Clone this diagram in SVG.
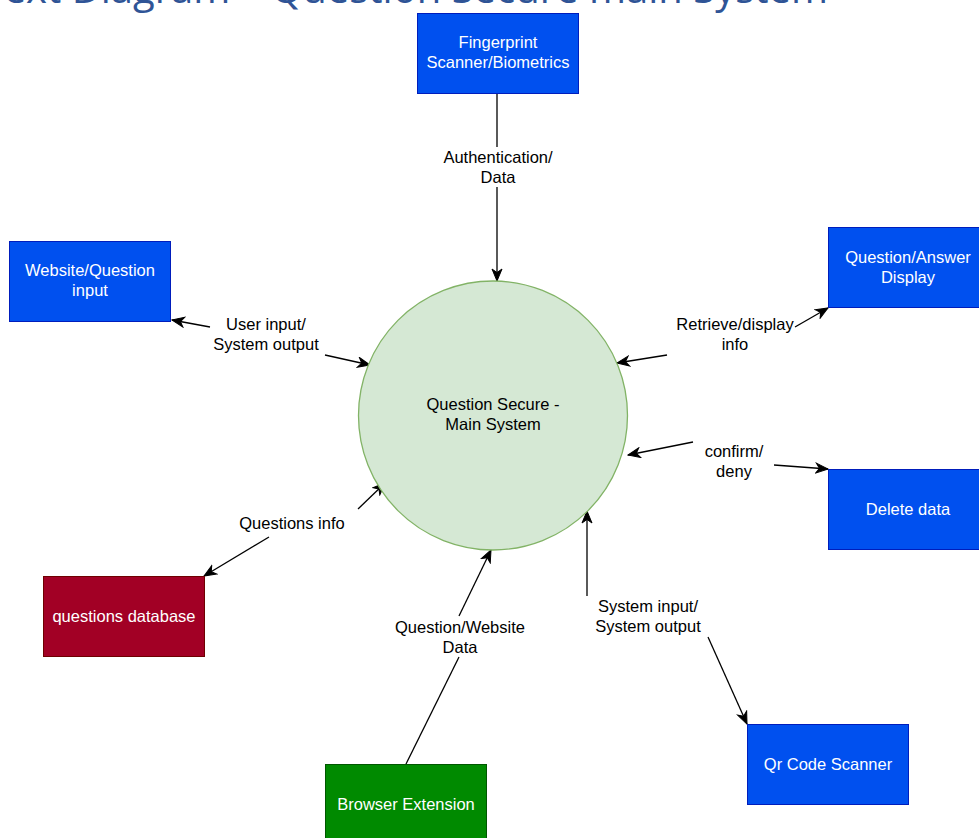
<svg xmlns="http://www.w3.org/2000/svg" width="979" height="838" viewBox="0 0 979 838">
<defs>
<style>
.t{font-family:"Liberation Sans",Arial,sans-serif;font-size:16.5px;text-anchor:middle}
.w{fill:#ffffff}
.k{fill:#000000}
.blue{fill:#0050ef;stroke:#001dbc;stroke-width:1}
.red{fill:#a20025;stroke:#6f0000;stroke-width:1}
.green{fill:#008a00;stroke:#005700;stroke-width:1}
.c{fill:none;stroke:#000000;stroke-width:1.3}
.a{marker-end:url(#arr)}
</style>
<marker id="arr" markerUnits="userSpaceOnUse" markerWidth="14" markerHeight="12" viewBox="0 0 14 12" refX="13" refY="6" orient="auto">
<path d="M1,1 L13,6 L1,11 L4.5,6 Z" fill="#000000" stroke="#000000" stroke-width="1"/>
</marker>
</defs>
<rect width="979" height="838" fill="#ffffff"/>
<text x="828" y="3" font-family="'Open Sans','Noto Sans',sans-serif" font-size="40" fill="#2F5496" text-anchor="end">ext Diagram – Question Secure main System</text>

<g id="connectors">
<path class="c" d="M497,93 L497,147"/>
<path class="c a" d="M497,187 L497,281"/>
<path class="c a" d="M210,327 L172,320"/>
<path class="c a" d="M325,355 L370,365"/>
<path class="c a" d="M795,327 L828,308"/>
<path class="c a" d="M667,355 L617,363"/>
<path class="c a" d="M693,442 L628,455"/>
<path class="c a" d="M774,465 L828,469"/>
<path class="c a" d="M269,537 L204,576"/>
<path class="c a" d="M358,509 L385,483"/>
<path class="c" d="M406,764 L459,657"/>
<path class="c a" d="M459,616 L491,550"/>
<path class="c a" d="M587,596 L587,511"/>
<path class="c a" d="M708,637 L747,724"/>
<text class="t k" x="498" y="163">Authentication/</text>
<text class="t k" x="498" y="183">Data</text>
<text class="t k" x="266" y="330">User input/</text>
<text class="t k" x="266" y="350">System output</text>
<text class="t k" x="735" y="330">Retrieve/display</text>
<text class="t k" x="735" y="350">info</text>
<text class="t k" x="734" y="457">confirm/</text>
<text class="t k" x="734" y="477">deny</text>
<text class="t k" x="292" y="529">Questions info</text>
<text class="t k" x="460" y="633">Question/Website</text>
<text class="t k" x="460" y="653">Data</text>
<text class="t k" x="648" y="612">System input/</text>
<text class="t k" x="648" y="632">System output</text>
</g>

<g id="main">
<circle cx="493" cy="415.5" r="134.5" fill="#d5e8d4" stroke="#82b366" stroke-width="1.3"/>
<text class="t k" x="493" y="410">Question Secure -</text>
<text class="t k" x="493" y="430">Main System</text>
</g>

<g id="fingerprint">
<rect class="blue" x="417.5" y="13.5" width="161" height="80"/>
<text class="t w" x="498" y="48">Fingerprint</text>
<text class="t w" x="498" y="68">Scanner/Biometrics</text>
</g>

<g id="website">
<rect class="blue" x="9.5" y="241.5" width="161" height="80"/>
<text class="t w" x="90" y="276">Website/Question</text>
<text class="t w" x="90" y="296">input</text>
</g>

<g id="qa-display">
<rect class="blue" x="828.5" y="227.5" width="161" height="80"/>
<text class="t w" x="908" y="263">Question/Answer</text>
<text class="t w" x="908" y="283">Display</text>
</g>

<g id="delete">
<rect class="blue" x="828.5" y="469.5" width="161" height="80"/>
<text class="t w" x="908" y="515">Delete data</text>
</g>

<g id="database">
<rect class="red" x="43.5" y="576.5" width="161" height="80"/>
<text class="t w" x="124" y="622">questions database</text>
</g>

<g id="browser">
<rect class="green" x="325.5" y="764.5" width="161" height="80"/>
<text class="t w" x="406" y="810">Browser Extension</text>
</g>

<g id="qr">
<rect class="blue" x="747.5" y="724.5" width="161" height="80"/>
<text class="t w" x="828" y="770">Qr Code Scanner</text>
</g>
</svg>
